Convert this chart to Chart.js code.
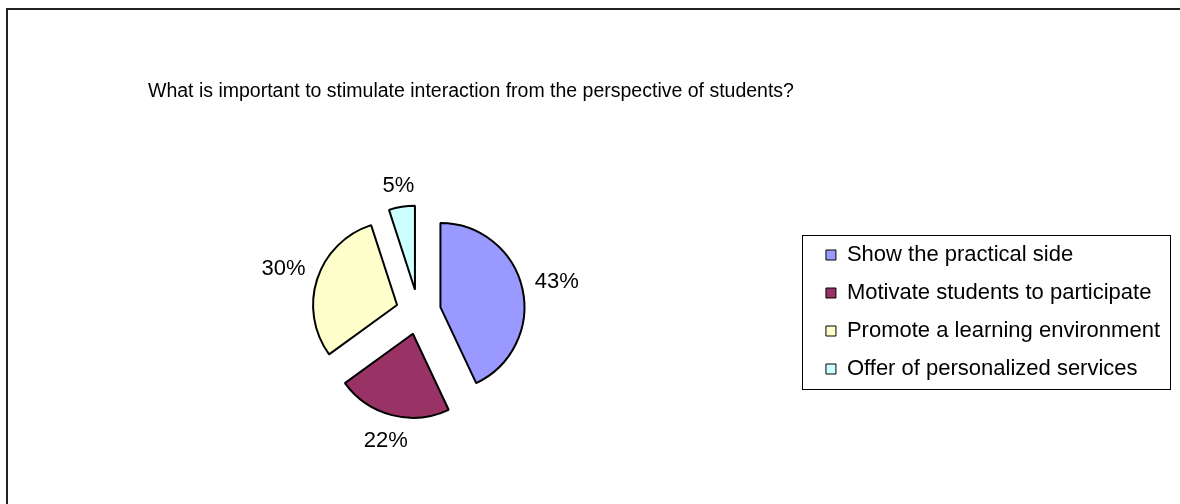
<!DOCTYPE html>
<html><head><meta charset="utf-8">
<script src="https://cdn.jsdelivr.net/npm/chart.js@4.4.1/dist/chart.umd.min.js"></script>
<style>
html,body{margin:0;padding:0;background:#fff;}
#wrap{position:relative;width:1180px;height:504px;overflow:hidden;}
#frame{position:absolute;left:6px;top:8px;width:1200px;height:520px;border-left:2px solid #222;border-top:2px solid #222;box-sizing:border-box;pointer-events:none;}
canvas{position:absolute;left:0;top:0;}
</style></head><body>
<div id="wrap"><canvas id="c" width="1180" height="504"></canvas><div id="frame"></div></div>
<script>
const titleText = "What is important to stimulate interaction from the perspective of students?";
const categories = ["Show the practical side", "Motivate students to participate", "Promote a learning environment", "Offer of personalized services"];
const percentValues = [43, 22, 30, 5];
const sliceColors = ["#9999FF", "#993366", "#FFFFCC", "#CCFFFF"];

const FONT = "'Liberation Sans', Arial, sans-serif";
const EXPLODE = 22.5;

const titlePlugin = {
  id: 'titleText',
  afterDraw(chart) {
    const ctx = chart.ctx;
    ctx.save();
    ctx.font = "19.5px " + FONT;
    ctx.fillStyle = "#000";
    ctx.textAlign = "left";
    ctx.textBaseline = "alphabetic";
    ctx.fillText(titleText, 148, 97);
    ctx.restore();
  }
};

// Draw each library-computed arc element translated outward along its mid-angle (exploded pie)
const explodePlugin = {
  id: 'explode',
  beforeDatasetDraw(chart, args) {
    const ctx = chart.ctx;
    const meta = args.meta;
    meta.data.forEach(arc => {
      const mid = (arc.startAngle + arc.endAngle) / 2;
      ctx.save();
      ctx.translate(Math.cos(mid) * EXPLODE, Math.sin(mid) * EXPLODE);
      arc.draw(ctx, chart.chartArea);
      ctx.restore();
    });
    return false;
  }
};

const legendBoxPlugin = {
  id: 'legendBox',
  afterDraw(chart) {
    const lg = chart.legend;
    if (!lg || !lg.legendHitBoxes || !lg.legendHitBoxes.length) return;
    const hb = lg.legendHitBoxes;
    let l = Infinity, r = -Infinity, t = Infinity, b = -Infinity;
    hb.forEach(h => {
      l = Math.min(l, h.left); r = Math.max(r, h.left + h.width);
      t = Math.min(t, h.top); b = Math.max(b, h.top + h.height);
    });
    const ctx = chart.ctx;
    ctx.save();
    ctx.strokeStyle = "#000";
    ctx.lineWidth = 1;
    ctx.strokeRect(Math.round(l - 24) + 0.5, Math.round(t - 9) + 0.5, Math.round(r - l + 34), Math.round(b - t + 18));
    ctx.restore();
  }
};

const sliceLabelPlugin = {
  id: 'sliceLabels',
  afterDatasetsDraw(chart) {
    const ctx = chart.ctx;
    const meta = chart.getDatasetMeta(0);
    ctx.save();
    ctx.font = "22px " + FONT;
    ctx.fillStyle = "#000";
    ctx.textAlign = "center";
    ctx.textBaseline = "middle";
    meta.data.forEach((arc, i) => {
      const p = arc.getProps(['x', 'y', 'startAngle', 'endAngle', 'outerRadius'], true);
      const mid = (p.startAngle + p.endAngle) / 2;
      const txt = percentValues[i] + '%';
      const hw = ctx.measureText(txt).width / 2;
      const hh = 8;
      const c = Math.cos(mid), s = Math.sin(mid);
      const dist = p.outerRadius + EXPLODE + 12 + Math.abs(c) * hw + Math.abs(s) * hh;
      ctx.fillText(txt, p.x + c * dist, p.y + s * dist + 1);
    });
    ctx.restore();
  }
};

new Chart(document.getElementById('c'), {
  type: 'pie',
  data: {
    labels: categories,
    datasets: [{
      data: percentValues,
      backgroundColor: sliceColors,
      borderColor: "#000",
      borderWidth: 2,
      offset: 0
    }]
  },
  options: {
    responsive: false,
    animation: false,
    radius: 84,
    layout: { padding: { left: 27, right: 10, top: 130, bottom: 10 } },
    plugins: {
      title: { display: false },
      tooltip: { enabled: false },
      legend: {
        display: true,
        position: 'right',
        align: 'center',
        labels: {
          font: { family: FONT, size: 22 },
          color: "#000",
          boxWidth: 10,
          boxHeight: 10,
          padding: 16,
          generateLabels(chart) {
            return Chart.overrides.pie.plugins.legend.labels.generateLabels(chart).map(it => Object.assign(it, { lineWidth: 1, strokeStyle: "#000" }));
          }
        }
      }
    }
  },
  plugins: [titlePlugin, explodePlugin, legendBoxPlugin, sliceLabelPlugin]
});
</script>
</body></html>
